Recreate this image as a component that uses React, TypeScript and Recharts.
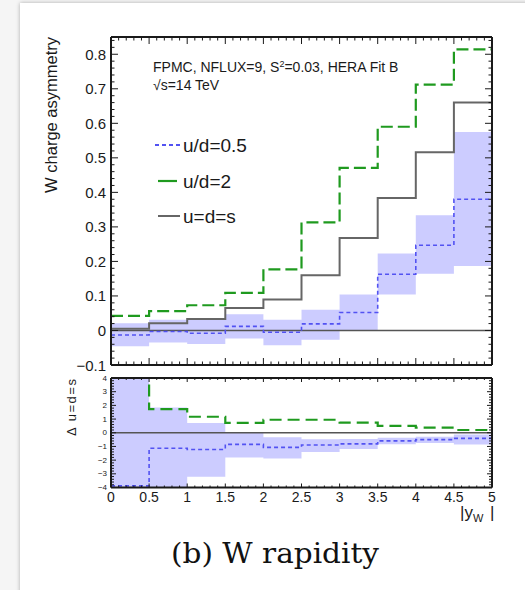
import React from "react";
import {
  ComposedChart,
  Line,
  Area,
  XAxis,
  YAxis,
  ReferenceLine,
} from "recharts";

// |y_W| bin edges (10 bins of 0.5)
const BIN_EDGES = [0, 0.5, 1, 1.5, 2, 2.5, 3, 3.5, 4, 4.5, 5];

// upper panel: W charge asymmetry per bin
const UD2_ASYM = [0.042, 0.056, 0.073, 0.109, 0.177, 0.313, 0.471, 0.59, 0.712, 0.814];
const UDS_ASYM = [0.005, 0.021, 0.033, 0.065, 0.09, 0.16, 0.268, 0.384, 0.516, 0.66];
const UD05_ASYM = [-0.013, -0.003, -0.008, 0.012, -0.005, 0.019, 0.052, 0.163, 0.247, 0.38];
const UD05_LOW = [-0.046, -0.035, -0.039, -0.023, -0.043, -0.027, 0.0, 0.104, 0.164, 0.187];
const UD05_HIGH = [0.021, 0.031, 0.033, 0.047, 0.031, 0.06, 0.104, 0.223, 0.334, 0.575];

// lower panel: difference with respect to u=d=s
const UD2_DELTA = [6, 1.72, 1.17, 0.72, 0.95, 0.95, 0.74, 0.5, 0.37, 0.2];
const UD05_DELTA = [-3.88, -1.13, -1.22, -0.85, -1.07, -0.9, -0.81, -0.59, -0.5, -0.41];
const UD05_DELTA_LOW = [-6, -6, -3.22, -1.8, -1.89, -1.4, -1.18, -0.84, -0.75, -0.85];
const UD05_DELTA_HIGH = [6, 1.85, 0.71, 0.04, -0.32, -0.48, -0.45, -0.36, -0.3, -0.12];

// axis ticks
const X_TICKS = [0, 0.5, 1, 1.5, 2, 2.5, 3, 3.5, 4, 4.5, 5];
const TOP_Y_TICKS = [-0.1, 0, 0.1, 0.2, 0.3, 0.4, 0.5, 0.6, 0.7, 0.8];
const BOTTOM_Y_TICKS = [-4, -3, -2, -1, 0, 1, 2, 3, 4];

const seq = (a: number, b: number, step: number) =>
  Array.from({ length: Math.round((b - a) / step) + 1 }, (_, i) =>
    Number((a + i * step).toFixed(4))
  );
const X_MINOR = seq(0, 5, 0.1);
const TOP_Y_MINOR = seq(-0.1, 0.84, 0.02);
const BOTTOM_Y_MINOR = seq(-4, 4, 0.2);

const FONT = "'Liberation Sans', Arial, Helvetica, sans-serif";
const C = {
  ud2: "#1f9a1f",
  uds: "#666666",
  ud05: "#5252f2",
  band: "#6e6eff",
  zero: "#555555",
  frame: "#1a1a1a",
  text: "#1a1a1a",
};
const FRAME = { stroke: C.frame, strokeWidth: 2 };

const N = BIN_EDGES.length - 1;
const topRows = BIN_EDGES.map((x, i) => {
  const k = Math.min(i, N - 1);
  return {
    x,
    ud2: UD2_ASYM[k],
    uds: UDS_ASYM[k],
    ud05: UD05_ASYM[k],
    band: [UD05_LOW[k], UD05_HIGH[k]],
  };
});
const bottomRows = BIN_EDGES.map((x, i) => {
  const k = Math.min(i, N - 1);
  return {
    x,
    ud2: UD2_DELTA[k],
    ud05: UD05_DELTA[k],
    band: [UD05_DELTA_LOW[k], UD05_DELTA_HIGH[k]],
  };
});

const fmt = (v: number) => {
  if (Math.abs(v) < 1e-9) return "0";
  const s = Number.isInteger(v) ? String(Math.abs(v)) : Math.abs(v).toFixed(1);
  return v < 0 ? "\u2212" + s : s;
};

type Side = "bottom" | "top" | "left" | "right";
interface LabelOpt {
  size: number;
  gap: number;
}

// inward ROOT-style ticks, major ones longer, optional labels on majors
function makeTick(side: Side, major: number[], majorLen: number, minorLen: number, label?: LabelOpt) {
  return (props: any) => {
    const { x, y, payload } = props;
    const v = payload.value as number;
    const isMajor = major.some((m) => Math.abs(m - v) < 1e-6);
    const len = isMajor ? majorLen : minorLen;
    let line;
    if (side === "bottom") line = <line x1={x} y1={y} x2={x} y2={y - len} />;
    else if (side === "top") line = <line x1={x} y1={y} x2={x} y2={y + len} />;
    else if (side === "left") line = <line x1={x} y1={y} x2={x + len} y2={y} />;
    else line = <line x1={x} y1={y} x2={x - len} y2={y} />;
    return (
      <g>
        <g stroke={C.frame} strokeWidth={1}>{line}</g>
        {label && isMajor && side === "left" && (
          <text x={x - label.gap} y={y} textAnchor="end" dominantBaseline="central" fontSize={label.size} fontFamily={FONT} fill={C.text}>
            {fmt(v)}
          </text>
        )}
        {label && isMajor && side === "bottom" && (
          <text x={x} y={y + label.gap} textAnchor="middle" fontSize={label.size} fontFamily={FONT} fill={C.text}>
            {fmt(v)}
          </text>
        )}
      </g>
    );
  };
}

const xCommon = {
  dataKey: "x",
  type: "number" as const,
  domain: [0, 5],
  allowDataOverflow: true,
  ticks: X_MINOR,
  interval: 0 as const,
  tickSize: 0,
  tickMargin: 0,
  tickLine: false,
  axisLine: FRAME,
};

function TopPanel() {
  const yCommon = {
    type: "number" as const,
    domain: [-0.1, 0.85],
    allowDataOverflow: true,
    ticks: TOP_Y_MINOR,
    interval: 0 as const,
    tickSize: 0,
    tickMargin: 0,
    tickLine: false,
    axisLine: FRAME,
  };
  return (
    <ComposedChart width={525} height={380} data={topRows} margin={{ top: 37, right: 33, bottom: 15, left: 61 }}>
      <XAxis xAxisId="xb" orientation="bottom" mirror height={1} {...xCommon} tick={makeTick("bottom", X_TICKS, 7, 3.5)} />
      <XAxis xAxisId="xt" orientation="top" mirror height={1} {...xCommon} tick={makeTick("top", X_TICKS, 7, 3.5)} />
      <YAxis yAxisId="yl" orientation="left" width={50} {...yCommon} tick={makeTick("left", TOP_Y_TICKS, 7, 3.5, { size: 15, gap: 5 })} />
      <YAxis yAxisId="yr" orientation="right" mirror width={1} {...yCommon} tick={makeTick("right", TOP_Y_TICKS, 7, 3.5)} />

      <Area xAxisId="xb" yAxisId="yl" dataKey="band" type="stepAfter" stroke="none" fill={C.band} fillOpacity={0.35} isAnimationActive={false} />
      <ReferenceLine xAxisId="xb" yAxisId="yl" y={0} stroke={C.zero} strokeWidth={1.5} />
      <Line xAxisId="xb" yAxisId="yl" dataKey="ud05" type="stepAfter" stroke={C.ud05} strokeWidth={1.6} strokeDasharray="4 3" dot={false} isAnimationActive={false} />
      <Line xAxisId="xb" yAxisId="yl" dataKey="uds" type="stepAfter" stroke={C.uds} strokeWidth={2} dot={false} isAnimationActive={false} />
      <Line xAxisId="xb" yAxisId="yl" dataKey="ud2" type="stepAfter" stroke={C.ud2} strokeWidth={2.2} strokeDasharray="12 5" dot={false} isAnimationActive={false} />
    </ComposedChart>
  );
}

function BottomPanel() {
  const yCommon = {
    type: "number" as const,
    domain: [-4, 4],
    allowDataOverflow: true,
    ticks: BOTTOM_Y_MINOR,
    interval: 0 as const,
    tickSize: 0,
    tickMargin: 0,
    tickLine: false,
    axisLine: FRAME,
  };
  return (
    <ComposedChart width={525} height={160} data={bottomRows} margin={{ top: 8, right: 33, bottom: 22.5, left: 61 }}>
      <XAxis xAxisId="xb" orientation="bottom" height={20} {...xCommon} tick={makeTick("bottom", X_TICKS, 4, 2, { size: 14, gap: 14 })} />
      <XAxis xAxisId="xt" orientation="top" mirror height={1} {...xCommon} tick={makeTick("top", X_TICKS, 4, 2)} />
      <YAxis yAxisId="yl" orientation="left" width={50} {...yCommon} tick={makeTick("left", BOTTOM_Y_TICKS, 5, 3, { size: 8, gap: 4 })} />
      <YAxis yAxisId="yr" orientation="right" mirror width={1} {...yCommon} tick={makeTick("right", BOTTOM_Y_TICKS, 5, 3)} />

      <Area xAxisId="xb" yAxisId="yl" dataKey="band" type="stepAfter" stroke="none" fill={C.band} fillOpacity={0.35} isAnimationActive={false} />
      <ReferenceLine xAxisId="xb" yAxisId="yl" y={0} stroke={C.zero} strokeWidth={1.5} />
      <Line xAxisId="xb" yAxisId="yl" dataKey="ud05" type="stepAfter" stroke={C.ud05} strokeWidth={1.6} strokeDasharray="4 3" dot={false} isAnimationActive={false} />
      <Line xAxisId="xb" yAxisId="yl" dataKey="ud2" type="stepAfter" stroke={C.ud2} strokeWidth={2.2} strokeDasharray="12 6" dot={false} isAnimationActive={false} />
    </ComposedChart>
  );
}

export default function App() {
  return (
    <div style={{ position: "absolute", left: 0, top: 0, width: 525, height: 590, background: "#f5f5f5", overflow: "hidden" }}>
      <div style={{ position: "absolute", left: 20, top: 3, width: 520, height: 600, background: "#fff", boxShadow: "0 0 4px rgba(0,0,0,0.3)" }} />
      <div style={{ position: "absolute", left: 0, top: 0 }}>
        <TopPanel />
      </div>
      <div style={{ position: "absolute", left: 0, top: 370 }}>
        <BottomPanel />
      </div>
      <svg width={525} height={590} style={{ position: "absolute", left: 0, top: 0, pointerEvents: "none" }}>
        <g fontFamily={FONT} fill={C.text}>
          <text transform="translate(57,37) rotate(-90)" textAnchor="end" fontSize={16.5}>
            W charge asymmetry
          </text>
          <text transform="translate(76,379) rotate(-90)" textAnchor="end" fontSize={13} textLength={57}>
            Δ u=d=s
          </text>
          <text x={153} y={71.5} fontSize={14}>
            FPMC, NFLUX=9, S<tspan fontSize={9} dy={-5}>2</tspan>
            <tspan dy={5}>=0.03, HERA Fit B</tspan>
          </text>
          <text x={153} y={90} fontSize={14}>
            √s=14 TeV
          </text>

          <line x1={155} x2={180} y1={145} y2={145} stroke={C.ud05} strokeWidth={1.8} strokeDasharray="4 3" />
          <text x={183} y={145} dominantBaseline="central" fontSize={19}>u/d=0.5</text>
          <line x1={158} x2={177} y1={181} y2={181} stroke={C.ud2} strokeWidth={2.2} />
          <text x={183} y={181} dominantBaseline="central" fontSize={19}>u/d=2</text>
          <line x1={158} x2={180} y1={216} y2={216} stroke={C.uds} strokeWidth={2} />
          <text x={183} y={216} dominantBaseline="central" fontSize={19}>u=d=s</text>

          <text x={460} y={518} fontSize={17}>
            |y<tspan fontSize={11} dy={4}>W</tspan>
          </text>
          <text x={490} y={518} fontSize={17}>|</text>
        </g>
        <text x={171} y={563} fontFamily="'DejaVu Serif', 'Liberation Serif', serif" fontSize={27} textLength={208} lengthAdjust="spacingAndGlyphs" fill="#111">
          (b) W rapidity
        </text>
      </svg>
    </div>
  );
}
